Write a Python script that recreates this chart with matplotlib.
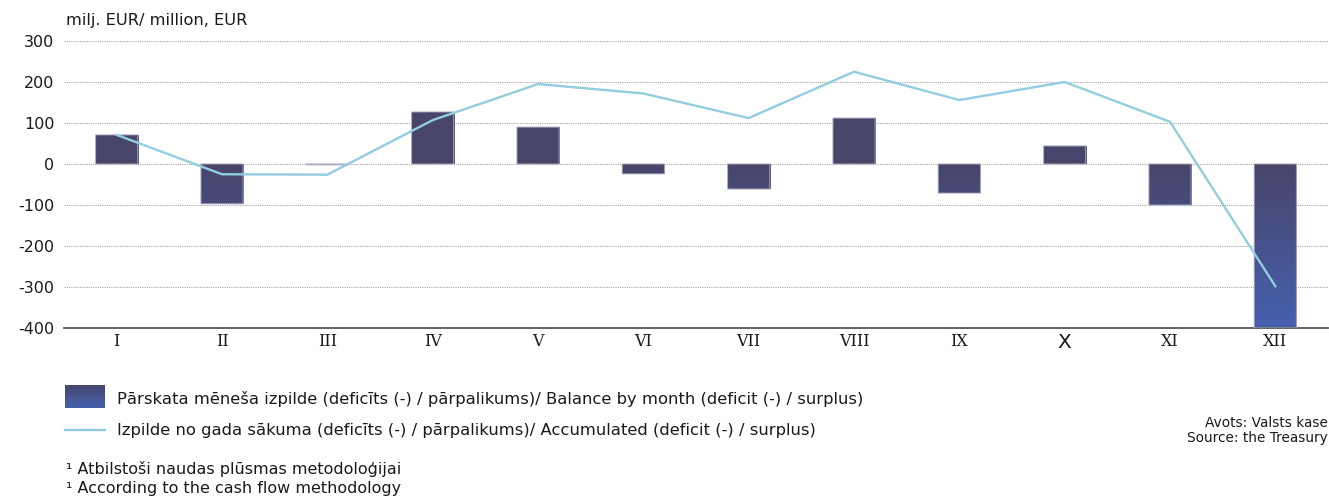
import numpy as np
import matplotlib
matplotlib.use('Agg')
import matplotlib.pyplot as plt
from matplotlib.colors import LinearSegmentedColormap

# DATA ===========================================================================================
months = ['I', 'II', 'III', 'IV', 'V', 'VI', 'VII', 'VIII', 'IX', 'X', 'XI', 'XII']
balance_by_month = [71, -97, -2, 127, 90, -24, -61, 112, -71, 44, -100, -400]
accumulated = [71, -25, -26, 107, 195, 172, 112, 225, 156, 200, 103, -298]
y_ticks = [300, 200, 100, 0, -100, -200, -300, -400]
# ===============================================================================================

BAR_TOP = '#48456a'
BAR_BOTTOM = '#4560ae'
LINE_COLOR = '#92cde0'
TEXT_COLOR = '#1a1a1a'
bar_cmap = LinearSegmentedColormap.from_list('bar_grad', [BAR_TOP, BAR_BOTTOM])
Y_MIN, Y_MAX = -400, 300

plt.rcParams['font.family'] = ['DejaVu Sans']

fig = plt.figure(figsize=(13.29, 4.96), dpi=100)
ax = fig.add_axes([64 / 1329, 1 - 328 / 496, (1328 - 64) / 1329, (328 - 41) / 496])

x = np.arange(len(months))
bar_w = 0.4
for xi, val in zip(x, balance_by_month):
    top, bottom = max(val, 0), min(val, 0)
    # colour runs from dark at zero and above to blue at the axis floor
    ys = np.linspace(top, bottom, 200)
    shade = np.clip(-ys / -Y_MIN, 0, 1).reshape(-1, 1)
    bars = ax.bar(xi, val, width=bar_w, facecolor='none', edgecolor='#a9a8c0', linewidth=0.7,
                  zorder=3, snap=False)
    img = ax.imshow(shade, cmap=bar_cmap, vmin=0, vmax=1, aspect='auto', interpolation='nearest',
                    extent=(xi - bar_w / 2, xi + bar_w / 2, bottom, top), zorder=2)
    img.set_clip_path(bars[0])

ax.plot(x, accumulated, color=LINE_COLOR, linewidth=1.7, zorder=4)

ax.set_xlim(-0.5, len(months) - 0.5)
ax.set_ylim(Y_MIN, Y_MAX)
ax.set_yticks(y_ticks)
ax.set_yticklabels([str(t) for t in y_ticks], fontsize=11.5, color=TEXT_COLOR)
ax.tick_params(axis='y', length=0, pad=7)
ax.set_xticks(x)
ax.set_xticklabels([])
ax.tick_params(axis='x', length=0)
for xi, m in zip(x, months):
    if m == 'X':
        ax.text(xi, -435, m, ha='center', va='center', fontsize=14.5, color=TEXT_COLOR,
                fontfamily='DejaVu Sans')
    else:
        ax.text(xi, -433, m, ha='center', va='center', fontsize=11.5, color=TEXT_COLOR,
                fontfamily='DejaVu Serif')

for t in y_ticks[:-1]:
    ax.axhline(t, color='#a5a5a5', linewidth=0.8, linestyle=(0, (1, 1)), zorder=1)
for side in ['top', 'right', 'left']:
    ax.spines[side].set_visible(False)
ax.spines['bottom'].set_color('#555555')
ax.spines['bottom'].set_linewidth(1.3)

fig.text(66 / 1329, 1 - 20 / 496, 'milj. EUR/ million, EUR', fontsize=11.7, color=TEXT_COLOR, va='center')

# legend, drawn by hand
leg_ax = fig.add_axes([65 / 1329, 1 - 408 / 496, 40 / 1329, 23 / 496])
leg_ax.imshow(np.linspace(0, 1, 100).reshape(-1, 1), cmap=bar_cmap, aspect='auto', extent=(0, 1, 0, 1))
leg_ax.axis('off')
fig.text(117 / 1329, 1 - 399 / 496,
         'Pārskata mēneša izpilde (deficīts (-) / pārpalikums)/ Balance by month (deficit (-) / surplus)',
         fontsize=11.8, color=TEXT_COLOR, va='center')
fig.add_artist(plt.Line2D([65 / 1329, 105 / 1329], [1 - 430 / 496, 1 - 430 / 496],
                          color=LINE_COLOR, linewidth=1.7))
fig.text(117 / 1329, 1 - 430 / 496,
         'Izpilde no gada sākuma (deficīts (-) / pārpalikums)/ Accumulated (deficit (-) / surplus)',
         fontsize=11.8, color=TEXT_COLOR, va='center')

fig.text(1328 / 1329, 1 - 423 / 496, 'Avots: Valsts kase', fontsize=9.8, color=TEXT_COLOR,
         ha='right', va='center')
fig.text(1328 / 1329, 1 - 438 / 496, 'Source: the Treasury', fontsize=9.8, color=TEXT_COLOR,
         ha='right', va='center')

fig.text(66 / 1329, 1 - 469 / 496, '¹ Atbilstoši naudas plūsmas metodoloģijai', fontsize=11.5,
         color=TEXT_COLOR, va='center')
fig.text(66 / 1329, 1 - 488 / 496, '¹ According to the cash flow methodology', fontsize=11.5,
         color=TEXT_COLOR, va='center')

fig.savefig('out.png', dpi=100)
